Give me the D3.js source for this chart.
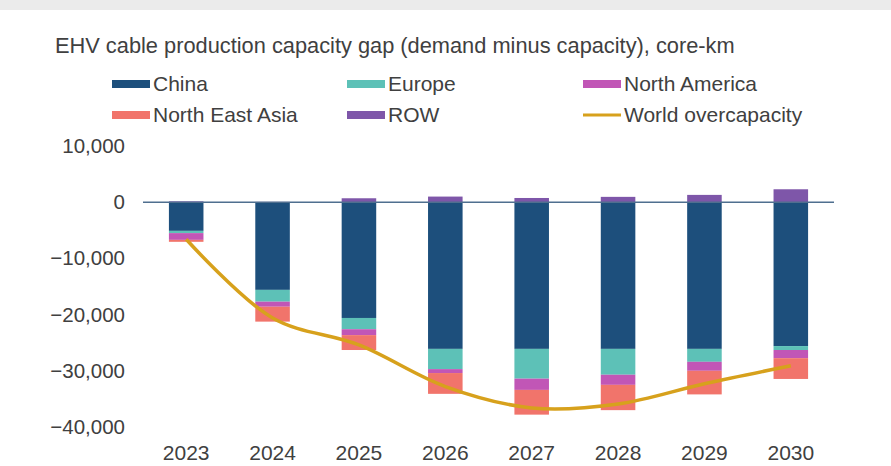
<!DOCTYPE html>
<html>
<head>
<meta charset="utf-8">
<script src="https://cdn.jsdelivr.net/npm/d3@7"></script>
<style>
body { margin: 0; background: #fff; }
text { font-family: "Liberation Sans", Arial, sans-serif; fill: #404040; }
</style>
</head>
<body>
<script>
//chart data
var years = ["2023", "2024", "2025", "2026", "2027", "2028", "2029", "2030"];
var china = [-5100, -15600, -20600, -26100, -26100, -26100, -26100, -25600];
var europe = [-400, -2100, -2000, -3600, -5300, -4600, -2300, -700];
var northAmerica = [-1200, -900, -1050, -700, -2000, -1800, -1600, -1450];
var northEastAsia = [-350, -2650, -2650, -3700, -4400, -4500, -4200, -3700];
var row = [150, 50, 700, 1000, 750, 950, 1300, 2300];
var worldOver = [-6600, -20600, -25400, -32800, -36600, -35900, -32300, -29100];
var yTicks = [10000, 0, -10000, -20000, -30000, -40000];

var seriesNames = ["China", "Europe", "North America", "North East Asia", "ROW"];
var seriesColors = ["#1d4f7c", "#5dc1b7", "#c156b6", "#f1746b", "#7e56a9"];
var lineColor = "#d7a11c";

var width = 891,
	height = 466,
	plotLeft = 143,
	plotRight = 834,
	plotTop = 146,
	plotBottom = 427;

var svg = d3.select("body")
	.append("svg")
	.attr("width", width)
	.attr("height", height);

//grey strip across the top
svg.append("rect")
	.attr("x", 0)
	.attr("y", 0)
	.attr("width", width)
	.attr("height", 10)
	.attr("fill", "#ebebeb");

//build rows for the stack from the arrays
var seriesArrays = [china, europe, northAmerica, northEastAsia, row];
var table = years.map(function(y, i){
	var d = { year: y };
	seriesNames.forEach(function(name, k){ d[name] = seriesArrays[k][i]; });
	return d;
});

var stacked = d3.stack()
	.keys(seriesNames)
	.offset(d3.stackOffsetDiverging)(table);

var x = d3.scaleBand()
	.domain(years)
	.range([plotLeft, plotRight])
	.paddingInner(0.6)
	.paddingOuter(0.3);

var y = d3.scaleLinear()
	.domain([-40000, 10000])
	.range([plotBottom, plotTop]);

//title
svg.append("text")
	.attr("x", 55)
	.attr("y", 53)
	.style("font-size", "21.8px")
	.text("EHV cable production capacity gap (demand minus capacity), core-km");

//y axis labels only
var yAxis = svg.append("g")
	.attr("transform", "translate(" + (plotLeft - 18) + ",0)")
	.call(d3.axisLeft(y)
		.tickValues(yTicks)
		.tickSize(0)
		.tickPadding(0)
		.tickFormat(d3.format(",")));
yAxis.select(".domain").remove();
yAxis.selectAll("text")
	.style("font-size", "20.5px")
	.style("font-family", "'Liberation Sans', Arial, sans-serif")
	.attr("fill", "#404040");

//x axis labels
var xAxis = svg.append("g")
	.attr("transform", "translate(0," + 445 + ")")
	.call(d3.axisBottom(x).tickSize(0).tickPadding(0));
xAxis.select(".domain").remove();
xAxis.selectAll("text")
	.attr("dy", "0.71em")
	.style("font-size", "21px")
	.style("font-family", "'Liberation Sans', Arial, sans-serif")
	.attr("fill", "#404040");

//stacked bars
svg.selectAll(".layer")
	.data(stacked)
	.enter()
	.append("g")
	.attr("class", "layer")
	.attr("fill", function(d, i){ return seriesColors[i]; })
	.selectAll("rect")
	.data(function(d){ return d; })
	.enter()
	.append("rect")
	.attr("x", function(d){ return x(d.data.year); })
	.attr("width", x.bandwidth())
	.attr("y", function(d){ return y(Math.max(d[0], d[1])); })
	.attr("height", function(d){ return Math.abs(y(d[0]) - y(d[1])); });

//zero line
svg.append("line")
	.attr("x1", plotLeft)
	.attr("x2", plotRight)
	.attr("y1", y(0))
	.attr("y2", y(0))
	.attr("stroke", "#4f6f8f")
	.attr("stroke-width", 1.5);

//world overcapacity line
var line = d3.line()
	.x(function(d, i){ return x(years[i]) + x.bandwidth() / 2; })
	.y(function(d){ return y(d); })
	.curve(d3.curveCatmullRom.alpha(0.5));

svg.append("path")
	.datum(worldOver)
	.attr("d", line)
	.attr("fill", "none")
	.attr("stroke", lineColor)
	.attr("stroke-width", 3.5);

//legend
var legendItems = [
	{ name: "China", color: seriesColors[0], col: 0, row: 0 },
	{ name: "Europe", color: seriesColors[1], col: 1, row: 0 },
	{ name: "North America", color: seriesColors[2], col: 2, row: 0 },
	{ name: "North East Asia", color: seriesColors[3], col: 0, row: 1 },
	{ name: "ROW", color: seriesColors[4], col: 1, row: 1 },
	{ name: "World overcapacity", color: lineColor, col: 2, row: 1, isLine: true }
];
var colX = [112, 347, 583],
	rowY = [84, 115];

var legend = svg.selectAll(".legendItem")
	.data(legendItems)
	.enter()
	.append("g")
	.attr("class", "legendItem")
	.attr("transform", function(d){
		return "translate(" + colX[d.col] + "," + rowY[d.row] + ")";
	});

legend.append("rect")
	.attr("x", 0)
	.attr("y", function(d){ return d.isLine ? -1.5 : -4; })
	.attr("width", 38)
	.attr("height", function(d){ return d.isLine ? 3 : 8; })
	.attr("fill", function(d){ return d.color; });

legend.append("text")
	.attr("x", 41)
	.attr("y", 0)
	.attr("dy", "0.35em")
	.style("font-size", "21px")
	.text(function(d){ return d.name; });
</script>
</body>
</html>
